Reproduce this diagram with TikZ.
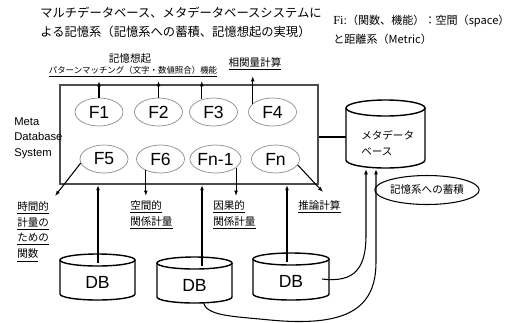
\documentclass[tikz,border=0pt]{standalone}
\usepackage{fontspec}
\setmainfont{Liberation Sans}
\newfontfamily\jp{Noto Sans CJK JP}
\newfontfamily\tms{Liberation Serif}
\usetikzlibrary{shapes.geometric,arrows.meta}
\def\dbcyl(#1,#2:#3:#4:#5){%
  \draw[thick] ({#1-#3},#2) -- ({#1-#3},{#2-#4}) arc (180:360:#3 and #5) -- ({#1+#3},#2);
  \draw[thick] (#1,#2) ellipse (#3 and #5);}

\begin{document}
\begin{tikzpicture}[x=0.02cm, y=0.02cm,
    tip/.style={-{Latex[length=3pt,width=2.2pt]}, line width=0.6pt},
    fn/.style={ellipse, draw=black!45, minimum width=0.96cm, minimum height=0.56cm, inner sep=0pt, font=\fontsize{10}{12}\selectfont},
    lab/.style={align=left, inner sep=0pt, font=\jp\fontsize{6}{9}\selectfont}]
		\useasboundingbox (0,0) rectangle (520,-322);
		%%%%% START %%%%%
		\node[lab, anchor=north west, font=\jp\fontsize{7}{10.8}\selectfont] (title) at (40,-7)
		  {マルチデータベース、メタデータベースシステムに\\よる記憶系（記憶系への蓄積、記憶想起の実現）};
		\node[lab, anchor=north west, font=\jp\fontsize{6.3}{10.8}\selectfont] (fidef) at (333,-15)
		  {{\tms\fontsize{7}{10.8}\selectfont Fi:}（関数、機能）：空間（space）\\と距離系（Metric）};
		
		\node[draw=black!70, line width=1.1pt, minimum width=5.16cm, minimum height=1.98cm, inner sep=0pt] (mdbs) at (189,-134.5) {};
		\node[lab, anchor=north west, font=\fontsize{6.4}{9}\selectfont] (mdblab) at (14,-117) {Meta\\Database\\System};
		
		\node[fn] (f1) at (99,-112) {F1};
		\node[fn] (f2) at (158.5,-112) {F2};
		\node[fn] (f3) at (213.5,-112) {F3};
		\node[fn] (f4) at (272.5,-112) {F4};
		\node[fn] (f5) at (104,-159) {F5};
		\node[fn] (f6) at (160.5,-159) {F6};
		\node[fn] (fn1) at (215.5,-159) {Fn-1};
		\node[fn] (fn) at (275.5,-159) {Fn};
		
		\node[lab] (recall) at (130,-59) {記憶想起};
		\node[lab, font=\jp\fontsize{4.8}{6}\selectfont] (pmatch) at (133,-72) {\underline{パターンマッチング（文字・数値照合）機能}};
		\node[lab] (corr) at (255,-64) {\underline{相関量計算}};
		\coordinate (up) at (0,-81);
		\coordinate (up4) at (0,-76);
		\draw[tip] (f1.north) -- (f1.north |- up);
		\draw[tip] (f2.north) -- (f2.north |- up);
		\draw[tip] (f3.133) -- (f3.133 |- up);
		\draw[tip] (f4.157) -- (f4.157 |- up4);
		
		\coordinate (dn) at (0,-196);
		\coordinate (t5) at (55,-196);
		\coordinate (tn) at (323,-192);
		\draw[tip] (f5.190) -- (t5);
		\draw[tip] (f6.218) -- (f6.218 |- dn);
		\draw[tip] (fn1.-23) -- (fn1.-23 |- dn);
		\draw[tip] (fn.-15) -- (tn);
		
		\node[lab, anchor=north west] (timef) at (17,-201) {\underline{時間的}\\\underline{計量の}\\\underline{ための}\\\underline{関数}};
		\node[lab, anchor=north west] (spacef) at (130,-200) {\underline{空間的}\\\underline{関係計量}};
		\node[lab, anchor=north west] (causef) at (213,-200) {\underline{因果的}\\\underline{関係計量}};
		\node[lab, anchor=north west] (inferf) at (298,-200) {\underline{推論計算}};
		
		\dbcyl(97.5,-260:37.5:34:6)
		\dbcyl(194.5,-263:37.5:34:6)
		\dbcyl(291,-259:38:35:6)
		\node[font=\fontsize{10}{12}\selectfont] (db1) at (97.5,-282) {DB};
		\node[font=\fontsize{10}{12}\selectfont] (db2) at (194.5,-285) {DB};
		\node[font=\fontsize{10}{12}\selectfont] (db3) at (291,-281) {DB};
		\coordinate (db1t) at (98,-263);
		\coordinate (db2t) at (202,-266);
		\coordinate (db3t) at (287,-262);
		\draw[tip] (db1t) -- (db1t |- mdbs.south);
		\draw[tip] (db2t) -- (db2t |- mdbs.south);
		\draw[tip] (db3t) -- (db3t |- mdbs.south);
		
		\dbcyl(385.5,-108:39.5:52:8)
		\node[lab, anchor=north west, font=\jp\fontsize{6}{9}\selectfont] (meta) at (361,-130) {メタデータ\\ベース};
		\coordinate (ml) at (346,-137);
		\draw[line width=0.7pt] (mdbs.east |- ml) -- (ml);
		
		\coordinate (mb1) at (366,-169);
		\coordinate (mb2) at (376,-169);
		\coordinate (db3r) at (322,-279);
		\coordinate (db2b) at (203,-302);
		\draw[tip] (db3r) .. controls (355,-283) and (366,-268) .. (366,-235) -- (mb1);
		\draw[tip] (db2b) .. controls (207,-316) and (230,-316) .. (270,-320)
		  .. controls (345,-327) and (376,-310) .. (376,-262) -- (mb2);
		
		\node[ellipse, draw, line width=0.6pt, minimum width=2.06cm, minimum height=0.58cm, inner sep=0pt, font=\jp\fontsize{6}{8}\selectfont] (store) at (427,-190) {記憶系への蓄積};
		%%%%% END %%%%%
\end{tikzpicture}
\end{document}
